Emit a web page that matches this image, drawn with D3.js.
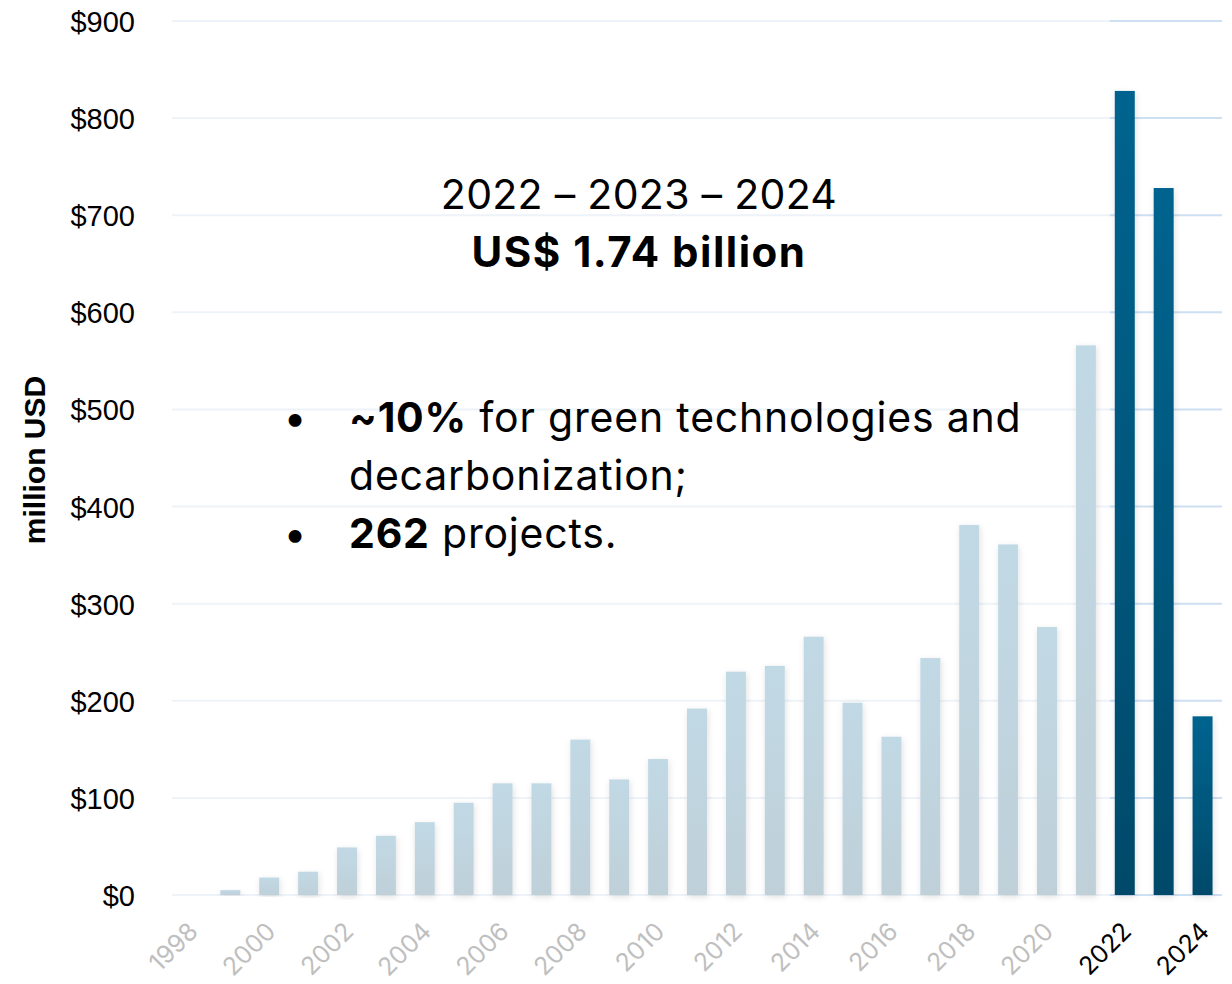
<!DOCTYPE html>
<html>
<head>
<meta charset="utf-8">
<script src="https://cdn.jsdelivr.net/npm/d3@7"></script>
<style>
  html, body { margin: 0; padding: 0; background: #ffffff; }
  svg { display: block; }
</style>
</head>
<body>
<svg id="chart" width="1232" height="984"></svg>
<script>
// ---- data ----
const years = [1998, 1999, 2000, 2001, 2002, 2003, 2004, 2005, 2006, 2007, 2008, 2009, 2010,
               2011, 2012, 2013, 2014, 2015, 2016, 2017, 2018, 2019, 2020, 2021, 2022, 2023, 2024];
const values = [0, 5, 18, 24, 49, 61, 75, 95, 115, 115, 160, 119, 140,
                192, 230, 236, 266, 198, 163, 244, 381, 361, 276, 566, 828, 728, 184];
const highlightYears = [2022, 2023, 2024];
const yTicks = [0, 100, 200, 300, 400, 500, 600, 700, 800, 900];
const xTickYears = [1998, 2000, 2002, 2004, 2006, 2008, 2010, 2012, 2014, 2016, 2018, 2020, 2022, 2024];
const yAxisTitle = "million USD";
const headline = "2022 – 2023 – 2024";
const subHeadline = "US$ 1.74 billion";
const bullets = [
  [{t: "~10%", b: true}, {t: " for green technologies and", b: false}],
  [{t: "decarbonization;", b: false}],
  [{t: "262", b: true}, {t: " projects.", b: false}]
];

const data = years.map((yr, i) => ({year: yr, value: values[i], hi: highlightYears.includes(yr)}));

const svg = d3.select("#chart");
const plotLeft = 172, plotRight = 1222, plotTop = 21, plotBottom = 895;

const x = d3.scaleBand().domain(years).range([plotLeft, plotRight]).paddingInner(0.486).paddingOuter(0.243);
const y = d3.scaleLinear().domain([0, 900]).range([plotBottom, plotTop]);

const defs = svg.append("defs");
const gl = defs.append("linearGradient").attr("id", "gLight").attr("x1", 0).attr("y1", 0).attr("x2", 0).attr("y2", 1);
gl.append("stop").attr("offset", "0%").attr("stop-color", "#c1d9e5");
gl.append("stop").attr("offset", "100%").attr("stop-color", "#bfd0d9");
const gd = defs.append("linearGradient").attr("id", "gDark").attr("x1", 0).attr("y1", 0).attr("x2", 0).attr("y2", 1);
gd.append("stop").attr("offset", "0%").attr("stop-color", "#04648f");
gd.append("stop").attr("offset", "100%").attr("stop-color", "#004a6a");
const sh = defs.append("filter").attr("id", "shadow").attr("x", "-50%").attr("y", "-10%").attr("width", "200%").attr("height", "120%");
sh.append("feDropShadow").attr("dx", 1).attr("dy", 2).attr("stdDeviation", 3).attr("flood-color", "#000").attr("flood-opacity", 0.12);

// gridlines
const hiStart = x(2022) - 5;
const grid = svg.append("g");
yTicks.forEach(t => {
  grid.append("line").attr("x1", plotLeft).attr("x2", hiStart).attr("y1", y(t)).attr("y2", y(t))
    .attr("stroke", "#eef3f9").attr("stroke-width", 2);
  grid.append("line").attr("x1", hiStart).attr("x2", plotRight).attr("y1", y(t)).attr("y2", y(t))
    .attr("stroke", "#cddff2").attr("stroke-width", 2);
});

// bars
svg.append("g").selectAll("rect").data(data.filter(d => d.value > 0)).join("rect")
  .attr("x", d => x(d.year))
  .attr("width", x.bandwidth())
  .attr("y", d => y(d.value))
  .attr("height", d => y(0) - y(d.value))
  .attr("fill", d => d.hi ? "url(#gDark)" : "url(#gLight)")
  .attr("filter", "url(#shadow)");

// y axis
const yAxis = d3.axisLeft(y).tickValues(yTicks).tickSize(0).tickFormat(d => "$" + d);
const gy = svg.append("g").attr("transform", "translate(135,0)").call(yAxis);
gy.select(".domain").remove();
gy.selectAll("text").attr("x", 0).attr("dy", "0.36em")
  .style("font-family", "'Liberation Sans', Arial, sans-serif").style("font-size", "29px").attr("fill", "#000");

// x axis
const xAxis = d3.axisBottom(x).tickValues(xTickYears).tickSize(0);
const gx = svg.append("g").attr("transform", `translate(0,${plotBottom})`).call(xAxis);
gx.select(".domain").remove();
gx.selectAll("text")
  .attr("y", 0).attr("dy", 0)
  .attr("text-anchor", "end")
  .attr("transform", "translate(8,38) rotate(-45)")
  .style("font-family", "Inter, 'Liberation Sans', sans-serif").style("font-size", "25px")
  .attr("fill", d => highlightYears.includes(d) ? "#000" : "#bfbfbf");

// y axis title
svg.append("text").attr("transform", "translate(45,460) rotate(-90)")
  .attr("text-anchor", "middle")
  .style("font-family", "'Liberation Sans', Arial, sans-serif").style("font-size", "30px").style("font-weight", "bold")
  .text(yAxisTitle);

// headline
const fam = "Inter, 'Noto Sans', sans-serif";
svg.append("text").attr("x", 639).attr("y", 209).attr("text-anchor", "middle")
  .style("font-family", fam).style("font-size", "41px").style("letter-spacing", "0.3px").text(headline);
svg.append("text").attr("x", 639).attr("y", 267).attr("text-anchor", "middle")
  .style("font-family", fam).style("font-size", "42px").style("font-weight", "bold").style("letter-spacing", "1.5px").text(subHeadline);

// bullets
const lineY = [432, 490, 548];
const bulletRows = [0, 2];
bullets.forEach((line, i) => {
  const t = svg.append("text").attr("x", 349).attr("y", lineY[i])
    .style("font-family", fam).style("font-size", "41px").style("letter-spacing", "0.8px");
  line.forEach(s => t.append("tspan").style("font-weight", s.b ? "bold" : "normal").text(s.t));
});
bulletRows.forEach(i => {
  svg.append("text").attr("x", 295).attr("y", lineY[i]).attr("text-anchor", "middle")
    .style("font-family", fam).style("font-size", "41px").text("•");
});
</script>
</body>
</html>
